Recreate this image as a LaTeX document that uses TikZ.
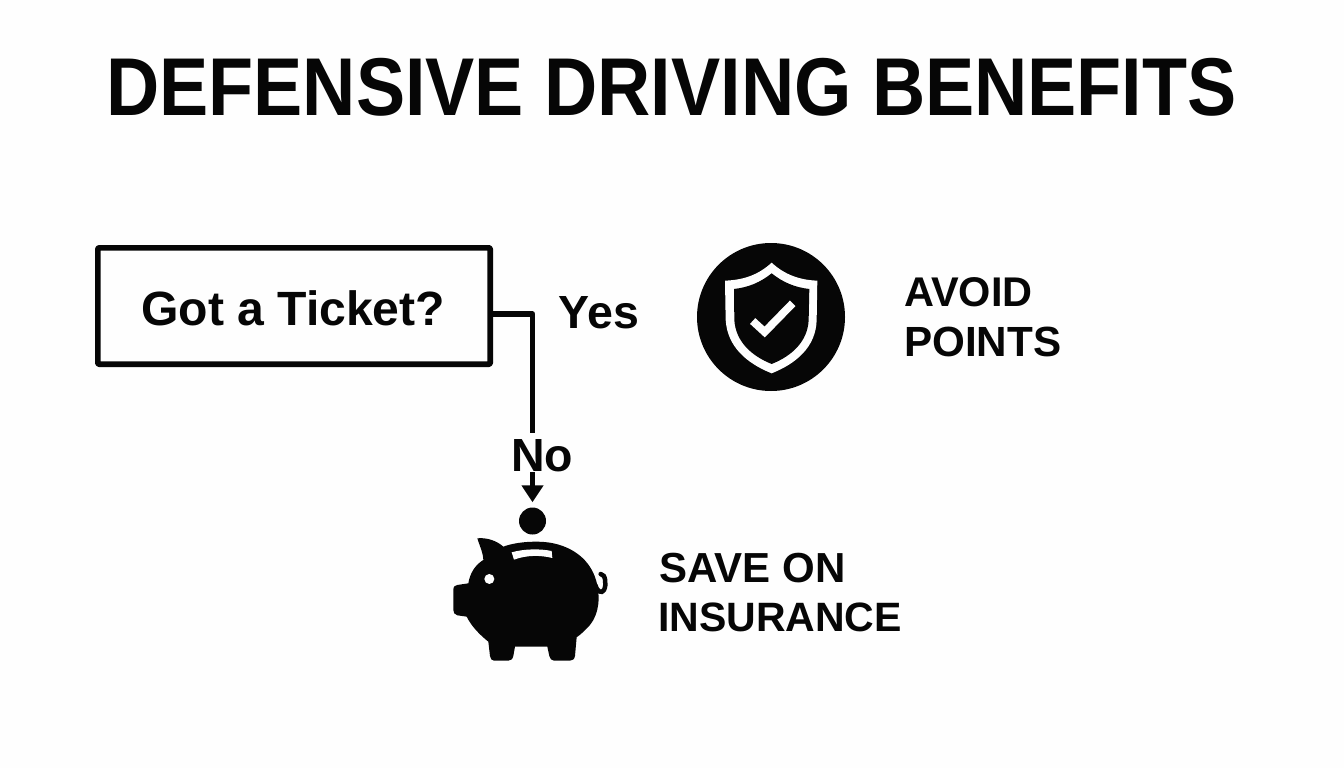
\documentclass[tikz,border=0pt]{standalone}
\usepackage{fontspec}
\usetikzlibrary{arrows.meta}
\setmainfont{Liberation Sans}
\definecolor{ink}{HTML}{060606}
\definecolor{paper}{HTML}{FEFEFE}
\tikzset{
  txt/.style={inner sep=0pt,text=ink,font=\bfseries,anchor=west},
  conn/.style={draw=ink,line width=5.5pt,line join=round},
}
\newcommand{\fs}[1]{\fontsize{#1}{#1}\selectfont}
\begin{document}
\begin{tikzpicture}[x=1pt,y=-1pt]
\path[use as bounding box,fill=paper] (0,0) rectangle (1344,768);

\node[txt,font=\bfseries\fs{82}] (title) at (106,87) {\scalebox{0.899}[1]{DEFENSIVE DRIVING BENEFITS}};

\node[draw=ink,line width=5.7pt,line join=round,rounded corners=1pt,minimum width=392.3pt,minimum height=116.3pt,inner sep=0pt,anchor=north west] (box) at (95,245) {};
\node[txt,font=\bfseries\fs{48.1}] (ticket) at (141,308) {Got a Ticket?};

\node[txt,font=\bfseries\fs{46.5}] (yes) at (558.5,313) {Yes};
\node[txt,font=\bfseries\fs{46.5}] (no) at (511,456) {No};
\coordinate (bend) at (532.5,314);
\coordinate (noend) at (532.5,433);
\draw[conn] (box.east |- bend) -- (bend) -- (noend);

% shield
\node[circle,fill=ink,minimum size=148pt,inner sep=0pt] (shieldc) at (771,317) {};
\begin{scope}[shift={(680,230)},x=0.3333pt,y=-0.3333pt]
  \fill[paper] (275,98) .. controls (235,135) and (190,150) .. (135,152)
     -- (137,270) .. controls (142,350) and (200,400) .. (275,430)
     .. controls (350,400) and (408,350) .. (410,270) -- (412,152)
     .. controls (360,150) and (315,135) .. (275,98) -- cycle;
  \fill[ink] (275,130) .. controls (240,158) and (205,172) .. (162,177)
     -- (163,270) .. controls (167,335) and (215,378) .. (275,402)
     .. controls (335,378) and (383,335) .. (386,270) -- (388,177)
     .. controls (345,172) and (310,158) .. (275,130) -- cycle;
  \draw[paper,line width=7.8pt] (218,273) -- (254,306) -- (338,220);
\end{scope}
\node[txt,font=\bfseries\fs{41.5}] (avoid) at (904,292) {AVOID};
\node[txt,font=\bfseries\fs{42.2}] (points) at (904,342) {POINTS};

% piggy
\node[circle,fill=ink,minimum size=27pt,inner sep=0pt] (coin) at (532.5,521) {};
\draw[ink,line width=4.5pt,shorten >=5pt,-{Triangle[length=17pt,width=21pt]}] (no.south -| coin) -- (coin.north);
\begin{scope}[shift={(440,420)},x=0.3333pt,y=-0.3333pt]
  \fill[ink] (112,355) .. controls (140,352) and (170,362) .. (190,380)
    .. controls (230,365) and (290,362) .. (330,368)
    .. controls (400,380) and (450,420) .. (468,480)
    .. controls (482,530) and (478,580) .. (450,615)
    .. controls (435,632) and (420,645) .. (410,652)
    -- (405,708) .. controls (403,718) and (398,722) .. (390,722)
    -- (342,722) .. controls (334,722) and (330,716) .. (328,708)
    -- (322,680) -- (225,680) -- (220,708)
    .. controls (218,718) and (212,722) .. (205,722)
    -- (162,722) .. controls (155,722) and (151,716) .. (150,708)
    -- (145,665) .. controls (120,645) and (95,620) .. (80,590)
    -- (52,586) .. controls (44,584) and (40,578) .. (40,570)
    -- (40,510) .. controls (40,500) and (44,496) .. (52,495)
    -- (85,490) .. controls (90,460) and (105,435) .. (130,420)
    .. controls (130,400) and (118,375) .. (112,355) -- cycle;
  \fill[paper] (215,397) .. controls (255,386) and (300,386) .. (335,393)
    -- (337,414) .. controls (300,405) and (260,405) .. (222,419) -- cycle;
  \fill[paper] (148,477) circle[radius=15];
  \draw[ink,line width=4.5pt,line cap=round] (466,495) .. controls (472,515) and (485,522) .. (492,510)
    .. controls (500,495) and (497,462) .. (482,462);
\end{scope}
\node[txt,font=\bfseries\fs{42}] (save) at (659.5,568) {SAVE ON};
\node[txt,font=\bfseries\fs{41}] (ins) at (658,617) {INSURANCE};
\end{tikzpicture}
\end{document}
